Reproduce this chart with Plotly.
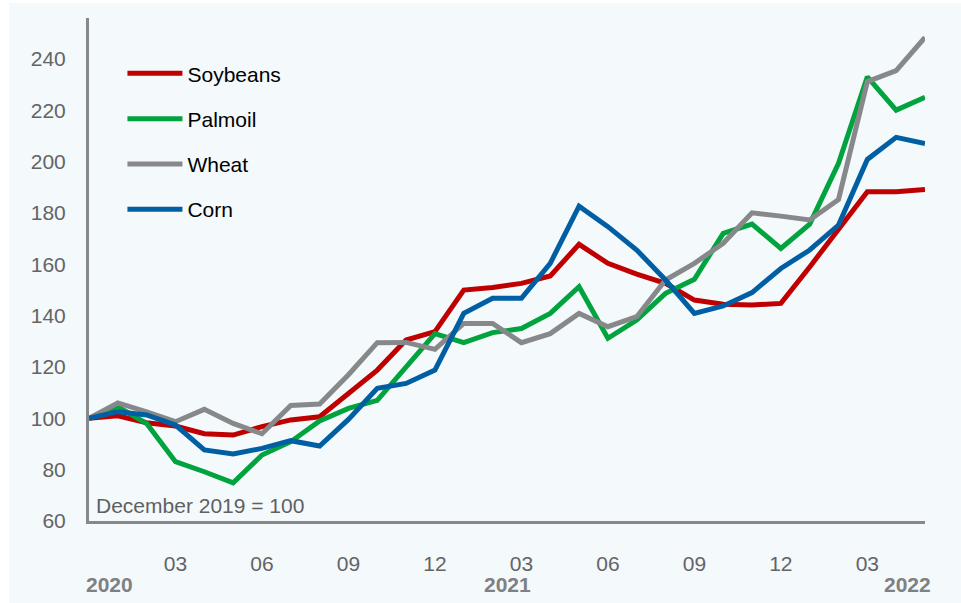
import pandas as pd
import plotly.graph_objects as go

# Monthly index, December 2019 = 100
months = [p.strftime("%Y-%m") for p in pd.period_range("2019-12", "2022-05", freq="M")]

soybeans = [100, 101, 98.3, 97, 94, 93.5, 96.8, 99.4, 100.6, 110, 118.8, 130.5, 133.8, 150, 151,
            152.6, 155.5, 167.8, 160.4, 156.2, 152.6, 146.1, 144.5, 144.2, 144.8, 159, 173.4, 188.3, 188.3, 189.2]
palmoil = [100, 104.5, 98, 83.1, 79.2, 74.9, 85.7, 90.9, 99, 103.9, 107, 120, 133, 129.5, 133.4,
           135, 140.9, 151.3, 131.2, 138.3, 148.7, 154.2, 172.1, 175.7, 166.2, 175.7, 199.4, 233.1, 220.1, 225.1]
wheat = [100, 106, 102.5, 98.7, 103.5, 98, 94, 105, 105.6, 117, 129.5, 129.6, 126.9, 137, 137,
         129.5, 133, 140.9, 135.7, 139.6, 153.9, 160.4, 168.2, 180.1, 178.8, 177.3, 185.3, 231.2, 235.5, 248.4]
corn = [100, 102.6, 101.3, 97.4, 87.7, 86.1, 88.3, 91.3, 89.2, 99.6, 111.7, 113.6, 118.8, 140.9, 146.8,
        146.8, 160.4, 182.7, 174.7, 165.6, 153.9, 140.9, 143.8, 149, 158.4, 165.6, 175.3, 200.9, 209.5, 207.1]

series_names = ["Soybeans", "Palmoil", "Wheat", "Corn"]
series_values = [soybeans, palmoil, wheat, corn]
series_colors = ["#C00000", "#00A33E", "#87888A", "#005FA3"]

year_labels = ["2020", "2021", "2022"]
year_positions = [0.7, 14.5, 28.4]

base_note = "December 2019 = 100"

x = list(range(len(months)))
# quarterly month labels, skipping the base month itself
tick_idx = [i for i, m in enumerate(months) if i > 0 and int(m[5:]) % 3 == 0]
tick_text = [months[i][5:] for i in tick_idx]

FONT = "Liberation Sans, Arial, sans-serif"
AXIS_GREY = "#87888A"
LABEL_GREY = "#636466"

fig = go.Figure()
for name, vals, col in zip(series_names, series_values, series_colors):
    fig.add_trace(go.Scatter(
        x=x, y=vals, name=name, mode="lines",
        line=dict(color=col, width=5, shape="linear"),
        legendgroup=name,
    ))

annotations = [
    dict(x=0, y=60, xref="x", yref="y", text=base_note, showarrow=False,
         xanchor="left", yanchor="bottom", xshift=5, yshift=2,
         font=dict(family=FONT, size=21, color="#5F6062")),
]
for lbl, pos in zip(year_labels, year_positions):
    annotations.append(dict(x=pos, y=0, xref="x", yref="paper", text=f"<b>{lbl}</b>", showarrow=False,
                            xanchor="center", yanchor="middle", xshift=0, yshift=-63,
                            font=dict(family=FONT, size=21, color="#7F8082")))

fig.update_layout(
    width=961, height=603,
    margin=dict(l=89, r=36, t=18, b=82),
    paper_bgcolor="#FFFFFF",
    plot_bgcolor="rgba(0,0,0,0)",
    font=dict(family=FONT, size=21, color=LABEL_GREY),
    showlegend=True,
    legend=dict(
        x=0.040, y=0.93, xanchor="left", yanchor="top",
        bgcolor="rgba(0,0,0,0)", borderwidth=0,
        font=dict(family=FONT, size=21, color="#000000"),
        itemwidth=55, tracegroupgap=15,
    ),
    annotations=annotations,
    shapes=[dict(type="rect", xref="paper", yref="paper", layer="below",
                 x0=-0.0957, x1=1.05, y0=-0.2, y1=1.0298,
                 fillcolor="#F4F9FC", line=dict(width=0))],
    xaxis=dict(
        range=[0, len(months) - 1], showgrid=False, zeroline=False,
        showline=True, linecolor=AXIS_GREY, linewidth=3,
        tickmode="array", tickvals=tick_idx, ticktext=tick_text,
        ticks="", ticklabelstandoff=22,
        tickfont=dict(family=FONT, size=21, color=LABEL_GREY),
    ),
    yaxis=dict(
        range=[60, 256], showgrid=False, zeroline=False,
        showline=True, linecolor=AXIS_GREY, linewidth=3,
        tickmode="array", tickvals=list(range(60, 241, 20)),
        ticks="", ticklabelstandoff=16,
        tickfont=dict(family=FONT, size=21, color=LABEL_GREY),
    ),
)

fig.write_html("out.html")
